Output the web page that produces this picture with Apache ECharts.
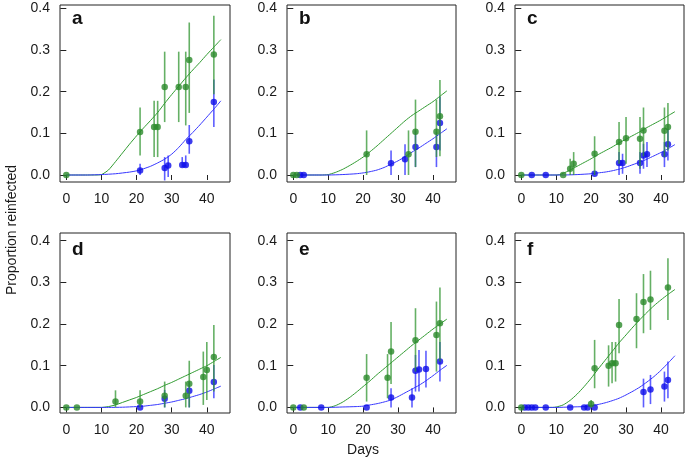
<!DOCTYPE html>
<html><head><meta charset="utf-8">
<script src="https://cdn.jsdelivr.net/npm/echarts@6/dist/echarts.min.js"></script>
<style>html,body{margin:0;padding:0;background:#fff}#c{width:685px;height:459px}</style>
</head><body><div id="c"></div>
<script>
// ---- data: [day, proportion, lower, upper] for points; [day, proportion] for fits
const panelLetters = ['a','b','c','d','e','f'];
const xTicks = [0,10,20,30,40];
const yTicks = [0,0.1,0.2,0.3,0.4];

const aGreenPts = [[0,0,0,0],[21,0.103,0.047,0.162],[25,0.115,0.043,0.178],[26,0.115,0.043,0.178],[28,0.211,0.127,0.296],[32,0.211,0.127,0.296],[34,0.211,0.119,0.296],[35,0.276,0.149,0.366],[42,0.289,0.194,0.382]];
const aBluePts = [[21,0.011,0,0.027],[28,0.017,-0.013,0.043],[29,0.023,-0.005,0.047],[33,0.024,0.019,0.043],[34,0.024,0.019,0.047],[35,0.081,0.051,0.12],[42,0.175,0.115,0.229]];
const aGreenFit = [[0,0],[8,0],[10,0.001],[12,0.012],[14,0.032],[16,0.053],[18,0.074],[20,0.094],[22,0.113],[24,0.131],[26,0.15],[28,0.172],[30,0.193],[32,0.213],[34,0.233],[36,0.252],[38,0.27],[40,0.289],[42,0.307],[44,0.325]];
const aBlueFit = [[0,0],[6,0],[10,0.001],[14,0.003],[18,0.007],[20,0.01],[22,0.015],[24,0.021],[26,0.029],[28,0.038],[30,0.05],[32,0.066],[34,0.085],[36,0.102],[38,0.12],[40,0.139],[42,0.158],[44,0.178]];

const bGreenPts = [[0,0,0,0],[1,0,0,0],[21,0.05,0,0.107],[33,0.05,0,0.107],[35,0.104,0.019,0.181],[41,0.104,0.043,0.181],[42,0.141,0.045,0.228]];
const bBluePts = [[2,0,0,0],[3,0,0,0],[28,0.028,0,0.059],[32,0.038,0,0.074],[35,0.067,0.019,0.107],[41,0.067,0.019,0.103],[42,0.125,0.059,0.188]];
const bGreenFit = [[0,0],[8,0],[10,0.001],[12,0.006],[14,0.013],[16,0.022],[18,0.032],[20,0.043],[22,0.056],[24,0.07],[26,0.085],[28,0.1],[30,0.115],[32,0.13],[34,0.143],[36,0.154],[38,0.165],[40,0.176],[42,0.189],[44,0.202]];
const bBlueFit = [[0,0],[10,0],[14,0.001],[18,0.003],[20,0.005],[22,0.008],[24,0.012],[26,0.018],[28,0.026],[30,0.034],[32,0.044],[34,0.055],[36,0.065],[38,0.076],[40,0.087],[42,0.099],[44,0.111]];

const cGreenPts = [[0,0,0,0],[12,0,0,0],[14,0.015,0,0.039],[15,0.027,0,0.055],[21,0.051,0,0.093],[28,0.079,0.027,0.127],[30,0.088,0.027,0.139],[34,0.087,0.015,0.139],[35,0.107,0.045,0.162],[41,0.106,0.043,0.162],[42,0.115,0.059,0.173]];
const cBluePts = [[3,0,0,0],[7,0,0,0],[21,0.003,0,0.003],[28,0.029,0,0.055],[29,0.029,0.003,0.051],[34,0.029,0.003,0.055],[35,0.047,0.015,0.075],[36,0.05,0.019,0.079],[41,0.05,0.019,0.079],[42,0.074,0.035,0.111]];
const cGreenFit = [[0,0],[10,0],[11,0.001],[12,0.004],[14,0.012],[16,0.021],[18,0.03],[20,0.039],[22,0.049],[24,0.058],[26,0.067],[28,0.077],[30,0.086],[32,0.095],[34,0.104],[36,0.114],[38,0.123],[40,0.132],[42,0.142],[44,0.152]];
const cBlueFit = [[0,0],[12,0],[16,0.001],[20,0.003],[22,0.005],[24,0.007],[26,0.01],[28,0.014],[30,0.019],[32,0.025],[34,0.031],[36,0.038],[38,0.046],[40,0.054],[42,0.063],[44,0.073]];

const dGreenPts = [[0,0,0,0],[3,0,0,0],[14,0.014,0,0.041],[21,0.014,0,0.041],[28,0.028,0,0.062],[34,0.028,0,0.062],[35,0.057,0,0.112],[39,0.073,0.006,0.134],[40,0.09,0.018,0.157],[42,0.121,0.038,0.198]];
const dBluePts = [[21,0,0,0],[28,0.021,0,0.042],[35,0.04,0,0.062],[42,0.061,0.022,0.102]];
const dGreenFit = [[0,0],[10,0],[12,0.002],[14,0.006],[16,0.012],[18,0.018],[20,0.024],[22,0.031],[24,0.038],[26,0.045],[28,0.053],[30,0.06],[32,0.068],[34,0.076],[36,0.084],[38,0.092],[40,0.1],[42,0.11],[44,0.12]];
const dBlueFit = [[0,0],[12,0],[16,0.0005],[20,0.002],[22,0.003],[24,0.005],[26,0.007],[28,0.01],[30,0.013],[32,0.017],[34,0.021],[36,0.026],[38,0.031],[40,0.037],[42,0.044],[44,0.051]];

const eGreenPts = [[0,0,0,0],[3,0,0,0],[21,0.071,0.014,0.128],[27,0.071,0.022,0.128],[28,0.134,0.056,0.205],[35,0.161,0.086,0.238],[41,0.174,0.086,0.254],[42,0.202,0.11,0.288]];
const eBluePts = [[2,0,0,0],[8,0,0,0],[21,0,0,0],[28,0.024,0,0.046],[34,0.024,0,0.046],[35,0.088,0.038,0.126],[36,0.091,0.038,0.138],[38,0.092,0.048,0.136],[42,0.11,0.062,0.157]];
const eGreenFit = [[0,0],[10,0],[12,0.004],[14,0.012],[16,0.023],[18,0.036],[20,0.05],[22,0.064],[24,0.079],[26,0.093],[28,0.107],[30,0.121],[32,0.135],[34,0.149],[36,0.162],[38,0.175],[40,0.188],[42,0.2],[44,0.212]];
const eBlueFit = [[0,0],[10,0],[14,0.001],[18,0.002],[20,0.003],[22,0.006],[24,0.009],[26,0.013],[28,0.018],[30,0.026],[32,0.035],[34,0.044],[36,0.053],[38,0.064],[40,0.076],[42,0.089],[44,0.101]];

const fGreenPts = [[0,0,0,0],[20,0.008,0,0.018],[21,0.094,0.046,0.162],[25,0.1,0.05,0.149],[26,0.106,0.058,0.157],[27,0.106,0.062,0.157],[28,0.198,0.13,0.26],[33,0.212,0.142,0.274],[35,0.253,0.178,0.32],[37,0.259,0.186,0.328],[42,0.288,0.21,0.358]];
const fBluePts = [[1,0,0,0],[2,0,0,0],[3,0,0,0],[4,0,0,0],[7,0,0,0],[14,0,0,0],[18,0,0,0],[19,0,0,0],[21,0,0,0],[35,0.037,0,0.069],[37,0.043,0.008,0.078],[41,0.05,0.014,0.086],[42,0.066,0.022,0.11]];
const fGreenFit = [[0,0],[9,0],[10,0.001],[12,0.006],[14,0.017],[16,0.032],[18,0.05],[20,0.07],[22,0.092],[24,0.113],[26,0.134],[28,0.155],[30,0.174],[32,0.193],[34,0.211],[36,0.228],[38,0.244],[40,0.258],[42,0.271],[44,0.283]];
const fBlueFit = [[0,0],[10,0],[14,0.001],[18,0.002],[20,0.004],[22,0.007],[24,0.011],[26,0.016],[28,0.022],[30,0.03],[32,0.039],[34,0.049],[36,0.061],[38,0.074],[40,0.089],[42,0.106],[44,0.124]];

const panels = [
  {g:aGreenPts,b:aBluePts,gf:aGreenFit,bf:aBlueFit},
  {g:bGreenPts,b:bBluePts,gf:bGreenFit,bf:bBlueFit},
  {g:cGreenPts,b:cBluePts,gf:cGreenFit,bf:cBlueFit},
  {g:dGreenPts,b:dBluePts,gf:dGreenFit,bf:dBlueFit},
  {g:eGreenPts,b:eBluePts,gf:eGreenFit,bf:eBlueFit},
  {g:fGreenPts,b:fBluePts,gf:fGreenFit,bf:fBlueFit}
];

// ---- layout
const lefts = [60, 287, 515];
const widths = [170, 169, 169];
const rows = [{top:5, height:177, ymin:-0.0168, ymax:0.408},{top:233, height:180, ymin:-0.0134, ymax:0.4185}];
const FONT = '"Liberation Sans", Arial, Helvetica, sans-serif';
const GREEN = '#2a8a2a', GREEN_BAR = 'rgba(50,150,50,0.75)', GREEN_LINE = '#2f9a2f';
const BLUE = '#0d0de8', BLUE_BAR = 'rgba(40,40,255,0.75)', BLUE_LINE = '#3535ff';

const grids = [], xAxes = [], yAxes = [], series = [], graphics = [];
panels.forEach((p, i) => {
  const col = i % 3, row = Math.floor(i / 3), R = rows[row];
  grids.push({left: lefts[col], top: R.top, width: widths[col], height: R.height,
    show: true, borderColor: '#222', borderWidth: 1, backgroundColor: 'transparent'});
  xAxes.push({type:'value', gridIndex:i, min:-1.8, max:46.6,
    axisLine:{show:false}, splitLine:{show:false},
    axisTick:{show:true, customValues:xTicks, length:5, lineStyle:{color:'#222'}},
    axisLabel:{customValues:xTicks, margin:10, fontSize:14, color:'#1a1a1a', fontFamily:FONT}});
  yAxes.push({type:'value', gridIndex:i, min:R.ymin, max:R.ymax,
    axisLine:{show:false}, splitLine:{show:false},
    axisTick:{show:true, customValues:yTicks, length:6, lineStyle:{color:'#222'}},
    axisLabel:{customValues:yTicks, margin:10, fontSize:14, color:'#1a1a1a', fontFamily:FONT,
      formatter: v => v.toFixed(1)}});
  const bars = (data, color) => ({type:'custom', xAxisIndex:i, yAxisIndex:i, data, silent:true,
    encode:{x:0, y:[2,3]}, clip:false,
    renderItem:(params, api) => {
      const x = api.value(0);
      const a = api.coord([x, api.value(2)]), b = api.coord([x, api.value(3)]);
      return {type:'line', shape:{x1:a[0], y1:a[1], x2:b[0], y2:b[1]}, style:{stroke:color, lineWidth:1.6}};
    }});
  series.push({type:'line', xAxisIndex:i, yAxisIndex:i, data:p.gf, showSymbol:false, smooth:0.2,
    lineStyle:{color:GREEN_LINE, width:1}, silent:true, z:1});
  series.push({type:'line', xAxisIndex:i, yAxisIndex:i, data:p.bf, showSymbol:false, smooth:0.2,
    lineStyle:{color:BLUE_LINE, width:1}, silent:true, z:1});
  series.push(Object.assign(bars(p.b, BLUE_BAR), {z:2}));
  series.push({type:'scatter', xAxisIndex:i, yAxisIndex:i, data:p.b.map(d=>[d[0],d[1]]), symbolSize:6.5,
    itemStyle:{color:BLUE}, clip:false, z:3, silent:true});
  series.push(Object.assign(bars(p.g, GREEN_BAR), {z:4}));
  series.push({type:'scatter', xAxisIndex:i, yAxisIndex:i, data:p.g.map(d=>[d[0],d[1]]), symbolSize:6.5,
    itemStyle:{color:GREEN}, clip:false, z:5, silent:true});
  graphics.push({type:'text', left: lefts[col] + 12, top: R.top + (row === 0 ? 4 : 7),
    style:{text: panelLetters[i], font:'bold 19px ' + FONT, fill:'#111'}});
});
graphics.push({type:'text', x:363, y:450, style:{text:'Days', font:'14px ' + FONT, fill:'#1a1a1a', align:'center', verticalAlign:'middle'}});
graphics.push({type:'text', x:12, y:230, rotation:Math.PI/2, style:{text:'Proportion reinfected', font:'14px ' + FONT, fill:'#1a1a1a', align:'center', verticalAlign:'middle'}});

const chart = echarts.init(document.getElementById('c'), null, {renderer:'canvas'});
chart.setOption({animation:false, grid:grids, xAxis:xAxes, yAxis:yAxes, series, graphic:graphics});
</script></body></html>
